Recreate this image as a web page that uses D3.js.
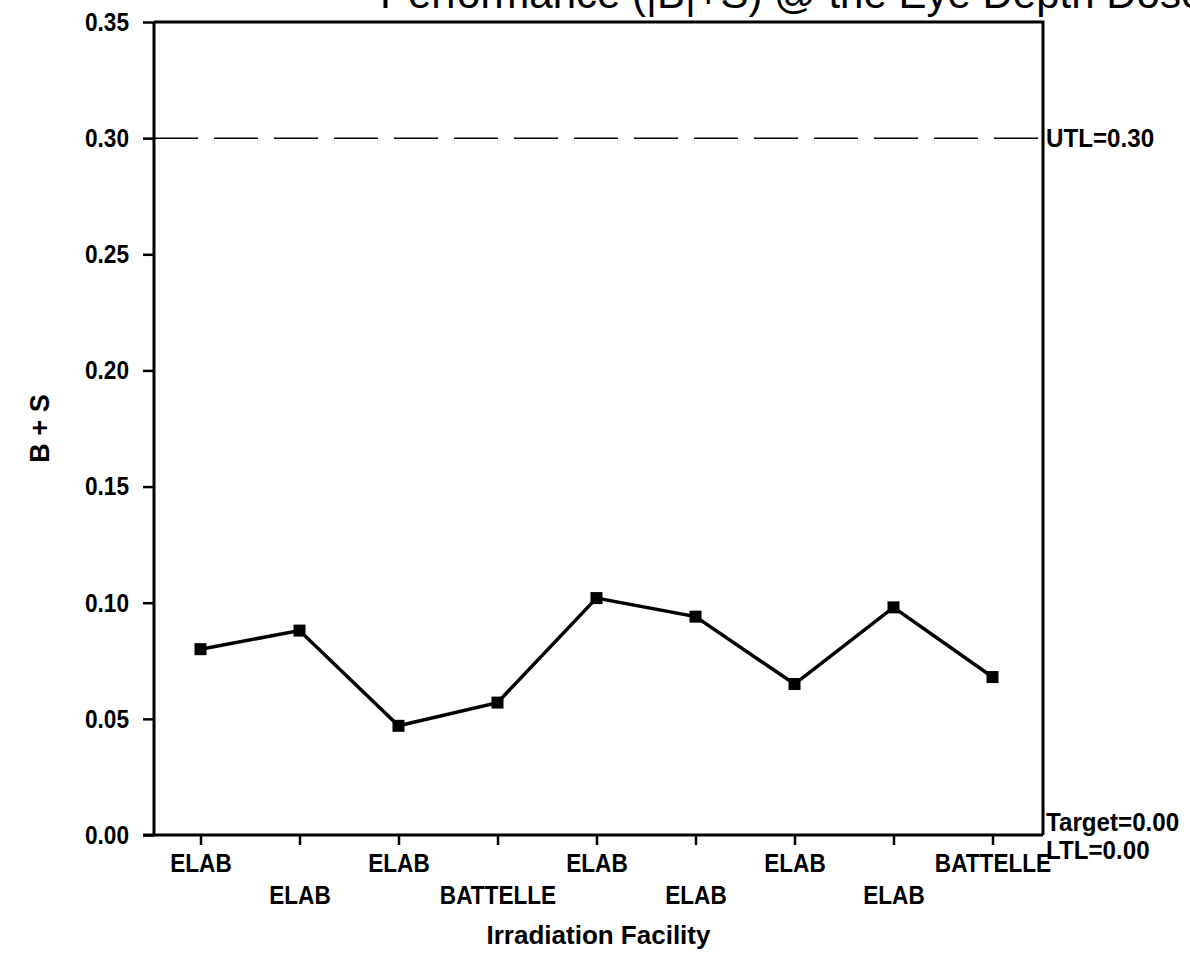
<!DOCTYPE html>
<html>
<head>
<meta charset="utf-8">
<script src="https://cdn.jsdelivr.net/npm/d3@7"></script>
<style>
  body { margin: 0; background: #fff; }
  svg { display: block; font-family: "Liberation Sans", Arial, sans-serif; }
  .tick text { font-weight: bold; font-size: 26px; fill: #000; }
</style>
</head>
<body>
<div id="vis"></div>
<script>
// facility of each run, in order
var facilities = ['ELAB', 'ELAB', 'ELAB', 'BATTELLE', 'ELAB', 'ELAB', 'ELAB', 'ELAB', 'BATTELLE'];
// B + S value of each run
var bsValues = [0.080, 0.088, 0.047, 0.057, 0.102, 0.094, 0.065, 0.098, 0.068];
var yTicks = [0.00, 0.05, 0.10, 0.15, 0.20, 0.25, 0.30, 0.35];
var utl = 0.30, target = 0.00, ltl = 0.00;

var width = 1190, height = 960;
var margin = { top: 22, left: 154, bottom: 125, right: 147 };
var innerW = width - margin.left - margin.right;
var innerH = height - margin.top - margin.bottom;
var squeeze = 0.87; // the scanned labels are narrower than the font

var svg = d3.select('#vis').append('svg')
    .attr('width', width)
    .attr('height', height);

// title, mostly cut off at the top edge like the scan
svg.append('text')
    .attr('x', 380)
    .attr('y', 8)
    .style('font-size', '42px')
    .text('Performance (|B|+S) @ the Eye Depth Dose');

var g = svg.append('g')
    .attr('transform', 'translate(' + margin.left + ',' + margin.top + ')');

var x = d3.scalePoint()
    .domain(d3.range(facilities.length))
    .range([-3, innerW - 1])
    .padding(0.5);

var y = d3.scaleLinear()
    .domain([0, 0.35])
    .range([innerH, 0]);

// frame (top and right)
g.append('path')
    .attr('d', 'M0,0H' + innerW + 'V' + innerH)
    .attr('fill', 'none')
    .attr('stroke', '#000')
    .attr('stroke-width', 3);

// y axis
var yAxis = g.append('g')
    .call(d3.axisLeft(y).tickValues(yTicks).tickFormat(d3.format('.2f')).tickSize(11).tickPadding(14));
yAxis.select('.domain').attr('stroke-width', 3).attr('d', 'M0,0V' + innerH);
yAxis.selectAll('.tick line').attr('stroke-width', 2.5);
yAxis.selectAll('.tick text')
    .attr('x', -25 / squeeze)
    .attr('transform', 'scale(' + squeeze + ',1)');

// x axis, labels staggered on two rows
var xAxis = g.append('g')
    .attr('transform', 'translate(0,' + innerH + ')')
    .call(d3.axisBottom(x).tickFormat(function (i) { return facilities[i]; }).tickSize(10).tickPadding(8));
xAxis.select('.domain').attr('stroke-width', 3).attr('d', 'M-11,0H' + innerW);
xAxis.selectAll('.tick line').attr('stroke-width', 2.5);
xAxis.selectAll('.tick text')
    .attr('y', function (i) { return i % 2 === 0 ? 37 : 69; })
    .attr('dy', null)
    .attr('transform', 'scale(' + squeeze + ',1)');

// upper tolerance limit
g.append('line')
    .attr('x1', 0).attr('x2', innerW)
    .attr('y1', y(utl)).attr('y2', y(utl))
    .attr('stroke', '#000')
    .attr('stroke-width', 1.5)
    .attr('stroke-dasharray', '44,16');

var side = g.append('g')
    .attr('transform', 'translate(' + (innerW + 3) + ',0) scale(0.93,1)')
    .style('font-weight', 'bold')
    .style('font-size', '26px');
side.append('text').attr('y', y(utl) + 9).text('UTL=' + utl.toFixed(2));
side.append('text').attr('y', y(target) - 4).text('Target=' + target.toFixed(2));
side.append('text').attr('y', y(ltl) + 24).text('LTL=' + ltl.toFixed(2));

// data line and markers
var line = d3.line()
    .x(function (d, i) { return x(i); })
    .y(function (d) { return y(d); });

g.append('path')
    .datum(bsValues)
    .attr('d', line)
    .attr('fill', 'none')
    .attr('stroke', '#000')
    .attr('stroke-width', 3.5);

g.selectAll('.pt').data(bsValues).enter()
    .append('rect')
    .attr('class', 'pt')
    .attr('x', function (d, i) { return x(i) - 6; })
    .attr('y', function (d) { return y(d) - 6; })
    .attr('width', 12)
    .attr('height', 12)
    .attr('fill', '#000');

// axis titles
svg.append('text')
    .attr('transform', 'translate(49,' + (margin.top + innerH / 2) + ') rotate(-90)')
    .attr('text-anchor', 'middle')
    .style('font-size', '27px')
    .style('font-weight', 'bold')
    .text('B + S');

svg.append('text')
    .attr('x', margin.left + innerW / 2)
    .attr('y', 944)
    .attr('text-anchor', 'middle')
    .style('font-size', '26px')
    .style('font-weight', 'bold')
    .text('Irradiation Facility');
</script>
</body>
</html>
